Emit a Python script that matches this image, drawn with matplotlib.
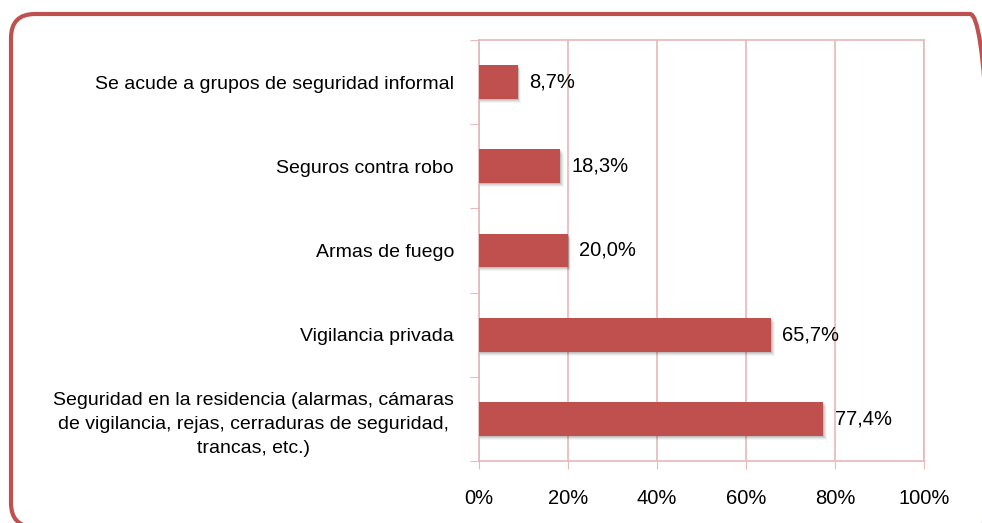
import numpy as np
import matplotlib
matplotlib.use("Agg")
import matplotlib.pyplot as plt
from matplotlib.patches import FancyBboxPatch
from matplotlib.transforms import IdentityTransform

# ---------------------------------------------------------------- data
categorias = [
    "Seguridad en la residencia (alarmas, cámaras\nde vigilancia, rejas, cerraduras de seguridad,\ntrancas, etc.)",
    "Vigilancia privada",
    "Armas de fuego",
    "Seguros contra robo",
    "Se acude a grupos de seguridad informal",
]
valores = [77.4, 65.7, 20.0, 18.3, 8.7]
etiquetas = ["77,4%", "65,7%", "20,0%", "18,3%", "8,7%"]
xticks = [0, 20, 40, 60, 80, 100]
xticklabels = ["0%", "20%", "40%", "60%", "80%", "100%"]

# ---------------------------------------------------------------- style
rojo = "#C0504D"
rosa = "#E6B9B8"
plt.rcParams['font.family'] = ['Liberation Sans', 'DejaVu Sans']
fs = 14

fig = plt.figure(figsize=(9.82, 5.23), dpi=100)
ax = fig.add_axes([479 / 982, 1 - 461 / 523, (924 - 479) / 982, (461 - 40) / 523])

y = np.arange(len(valores))
h = 0.4

# soft shadow under the bars
for k, a in [(1, 0.10), (2, 0.08), (3, 0.06), (4, 0.04)]:
    ax.barh(y - 0.012 * k, np.array(valores) + 0.18 * k, height=h, left=0,
            color="black", alpha=a, zorder=2, linewidth=0)
ax.barh(y, valores, height=h, color=rojo, zorder=3, linewidth=0)

for yi, v, t in zip(y, valores, etiquetas):
    ax.annotate(t, (v, yi), xytext=(8, 0), textcoords="offset points",
                va="center", ha="left", fontsize=fs + 0.5, color="black")

ax.set_xlim(0, 100)
ax.set_ylim(-0.5, len(valores) - 0.5)

ax.set_xticks(xticks)
ax.set_xticklabels(xticklabels, fontsize=fs + 0.5)
ax.tick_params(axis="x", length=6, color=rosa, pad=14)
ax.grid(axis="x", color=rosa, linewidth=1.2, zorder=0)
ax.set_axisbelow(True)

ax.set_yticks(np.arange(-0.5, len(valores)), labels=[""] * (len(valores) + 1))
ax.set_yticks(y, labels=categorias, minor=True)
ax.tick_params(axis="y", which="major", length=6.5, color=rosa, direction="out")
ax.tick_params(axis="y", which="minor", length=0, pad=18, labelsize=fs)
for lab in ax.get_yticklabels(minor=True):
    lab.set_multialignment("center")
    lab.set_linespacing(1.55)

for s in ax.spines.values():
    s.set_color(rosa)
    s.set_linewidth(1.2)

# rounded frame around the whole chart
marco = FancyBboxPatch((11, -4), 994 - 11, 523 - 14 + 4,
                       boxstyle="round,pad=0,rounding_size=24",
                       transform=IdentityTransform(), facecolor="none",
                       edgecolor=rojo, linewidth=3.0, zorder=10)
fig.add_artist(marco)

fig.savefig("out.png", dpi=100)
